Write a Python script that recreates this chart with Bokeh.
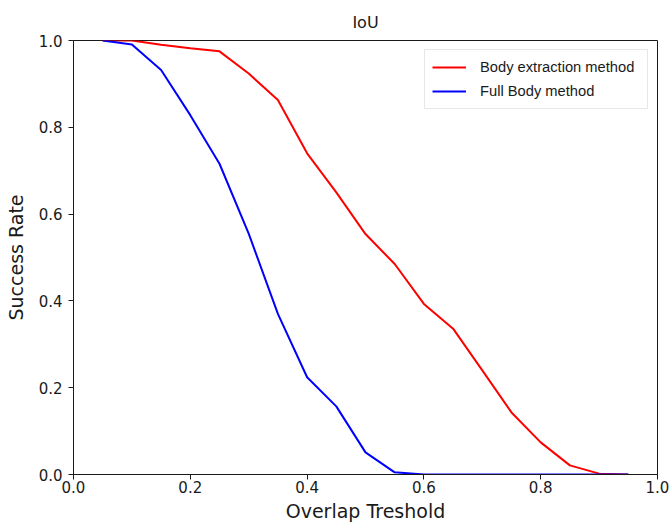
from bokeh.plotting import figure
from bokeh.models import Range1d, FixedTicker, NumeralTickFormatter, Legend, LegendItem
from bokeh.embed import file_html
from bokeh.resources import INLINE

thresholds = [0.05, 0.10, 0.15, 0.20, 0.25, 0.30, 0.35, 0.40, 0.45, 0.50,
              0.55, 0.60, 0.65, 0.70, 0.75, 0.80, 0.85, 0.90, 0.95]
body_extraction = [1.0, 1.0, 0.99, 0.982, 0.975, 0.924, 0.863, 0.740, 0.650, 0.554,
                   0.485, 0.393, 0.336, 0.240, 0.143, 0.074, 0.021, 0.002, 0.0]
full_body = [1.0, 0.991, 0.932, 0.828, 0.716, 0.555, 0.370, 0.224, 0.157, 0.051,
             0.005, 0.0, 0.0, 0.0, 0.0, 0.0, 0.0, 0.0, 0.0]
ticks = [0.0, 0.2, 0.4, 0.6, 0.8, 1.0]

FONT = "DejaVu Sans"
INK = "#1a1a1a"

p = figure(width=670, height=524, output_backend="svg", toolbar_location=None,
           x_range=Range1d(0, 1), y_range=Range1d(0, 1),
           min_border_left=73, min_border_right=13, min_border_top=40, min_border_bottom=50)

p.title.text = "IoU"
p.title.align = "center"
p.title.text_font = FONT
p.title.text_font_style = "normal"
p.title.text_font_size = "16px"
p.title.text_color = INK
p.title.standoff = 18

p.xgrid.visible = False
p.ygrid.visible = False
p.outline_line_color = INK
p.outline_line_width = 1
p.background_fill_color = "white"
p.border_fill_color = "white"

for ax in (p.xaxis[0], p.yaxis[0]):
    ax.ticker = FixedTicker(ticks=ticks)
    ax.formatter = NumeralTickFormatter(format="0.0")
    ax.minor_tick_line_color = None
    ax.major_tick_out = 5
    ax.major_tick_in = 0
    ax.major_tick_line_color = INK
    ax.axis_line_color = INK
    ax.major_label_text_font = FONT
    ax.major_label_text_font_size = "15px"
    ax.major_label_text_color = INK
    ax.axis_label_text_font = FONT
    ax.axis_label_text_font_size = "19px"
    ax.axis_label_text_font_style = "normal"
    ax.axis_label_text_color = INK

p.xaxis[0].axis_label = "Overlap Treshold"
p.yaxis[0].axis_label = "Success Rate"
p.xaxis[0].major_label_standoff = 1
p.xaxis[0].axis_label_standoff = 4
p.yaxis[0].major_label_standoff = 6
p.yaxis[0].axis_label_standoff = 9

r1 = p.line(thresholds, body_extraction, line_color="#ff0000", line_width=2)
r2 = p.line(thresholds, full_body, line_color="#0000ff", line_width=2)

legend = Legend(items=[LegendItem(label="Body extraction method", renderers=[r1]),
                       LegendItem(label="Full Body method", renderers=[r2])],
                location="top_right")
legend.label_text_font = "Liberation Sans"
legend.label_text_font_size = "14.7px"
legend.label_text_color = INK
legend.glyph_width = 34
legend.glyph_height = 20
legend.label_height = 20
legend.label_width = 160
legend.label_standoff = 14
legend.spacing = 4
legend.padding = 7
legend.margin = 9
legend.border_line_color = "#cfcfcf"
legend.border_line_width = 1
legend.background_fill_alpha = 1.0
p.add_layout(legend)

open("out.html", "w").write(file_html(p, INLINE))
